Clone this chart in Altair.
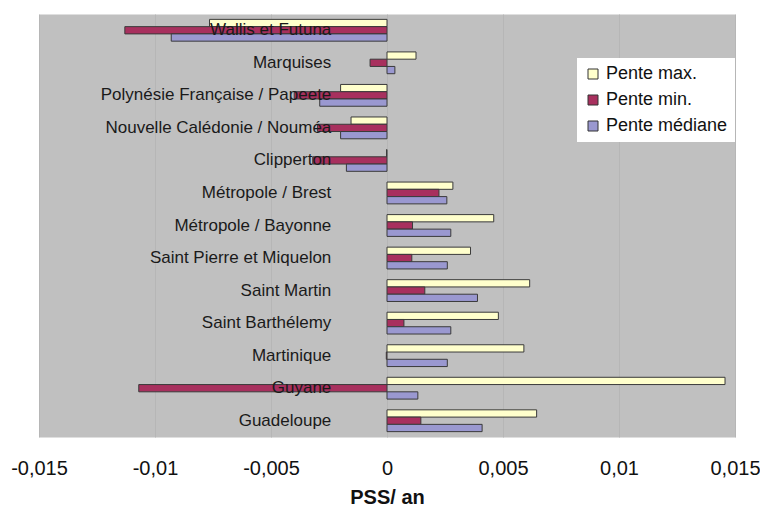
import altair as alt
import pandas as pd

categories = [
    "Wallis et Futuna", "Marquises", "Polynésie Française / Papeete",
    "Nouvelle Calédonie / Nouméa", "Clipperton", "Métropole / Brest",
    "Métropole / Bayonne", "Saint Pierre et Miquelon", "Saint Martin",
    "Saint Barthélemy", "Martinique", "Guyane", "Guadeloupe",
]
pente_max = [-0.00765, 0.00125, -0.0020, -0.00155, -0.00002, 0.00284, 0.0046,
             0.0036, 0.00615, 0.0048, 0.0059, 0.01457, 0.00645]
pente_min = [-0.0113, -0.00073, -0.0040, -0.0030, -0.0032, 0.00224, 0.0011,
             0.00107, 0.00163, 0.00073, -0.00003, -0.0107, 0.00146]
pente_mediane = [-0.0093, 0.00034, -0.0029, -0.0020, -0.00175, 0.00258, 0.00275,
                 0.0026, 0.0039, 0.00275, 0.0026, 0.00133, 0.0041]
series_names = ["Pente max.", "Pente min.", "Pente médiane"]
series_colors = ["#FFFFCC", "#A8305E", "#9A98D0"]
x_ticks = [-0.015, -0.01, -0.005, 0, 0.005, 0.01, 0.015]

rows = []
for name, vals in zip(series_names, [pente_max, pente_min, pente_mediane]):
    for c, v in zip(categories, vals):
        rows.append({"cat": c, "series": name, "value": v})
df = pd.DataFrame(rows)
cat_df = pd.DataFrame({"cat": categories})

FONT = "Liberation Sans"
label_anchor = -0.0024

x_scale = alt.Scale(domain=[-0.015, 0.015], nice=False)
y_enc = alt.Y("cat:N", sort=categories, axis=None,
              scale=alt.Scale(paddingInner=0.33, paddingOuter=0.165))

bars = alt.Chart(df).mark_bar(stroke="#3a3a3a", strokeWidth=1).encode(
    x=alt.X("value:Q", scale=x_scale,
            axis=alt.Axis(values=x_ticks,
                          labelExpr="replace(replace(format(datum.value, '~g'), '.', ','), '\u2212', '-')",
                          grid=True, gridColor="#B6B6B6", gridWidth=1,
                          domain=False, ticks=False, labelFlush=False, labelOverlap=False,
                          labelFont=FONT, labelFontSize=20, labelColor="#111111",
                          labelPadding=21,
                          title="PSS/ an", titleFont=FONT, titleFontSize=20,
                          titleFontWeight="bold", titleColor="#111111", titlePadding=9)),
    y=y_enc,
    yOffset=alt.YOffset("series:N", sort=series_names),
    color=alt.Color("series:N",
                    scale=alt.Scale(domain=series_names, range=series_colors),
                    legend=alt.Legend(title=None, orient="none", legendX=538, legendY=44,
                                      fillColor="white", padding=7, rowPadding=8,
                                      symbolType="square", symbolSize=100,
                                      symbolStrokeColor="#333333", symbolStrokeWidth=1,
                                      labelFont=FONT, labelFontSize=18, labelColor="#111111",
                                      labelLimit=300)),
)

labels = alt.Chart(cat_df).mark_text(align="right", baseline="middle", font=FONT,
                                     fontSize=17, color="#1a1a1a").encode(
    y=y_enc,
    x=alt.datum(label_anchor, scale=x_scale),
    text="cat:N",
)

chart = alt.layer(bars, labels).properties(
    width=696, height=423, autosize="none",
    padding={"left": 31, "top": 6, "right": 25, "bottom": 69},
    background="white",
).configure_view(fill="#C0C0C0", stroke="transparent")

chart.save("out.html", embed_options={"renderer": "svg", "actions": False})
